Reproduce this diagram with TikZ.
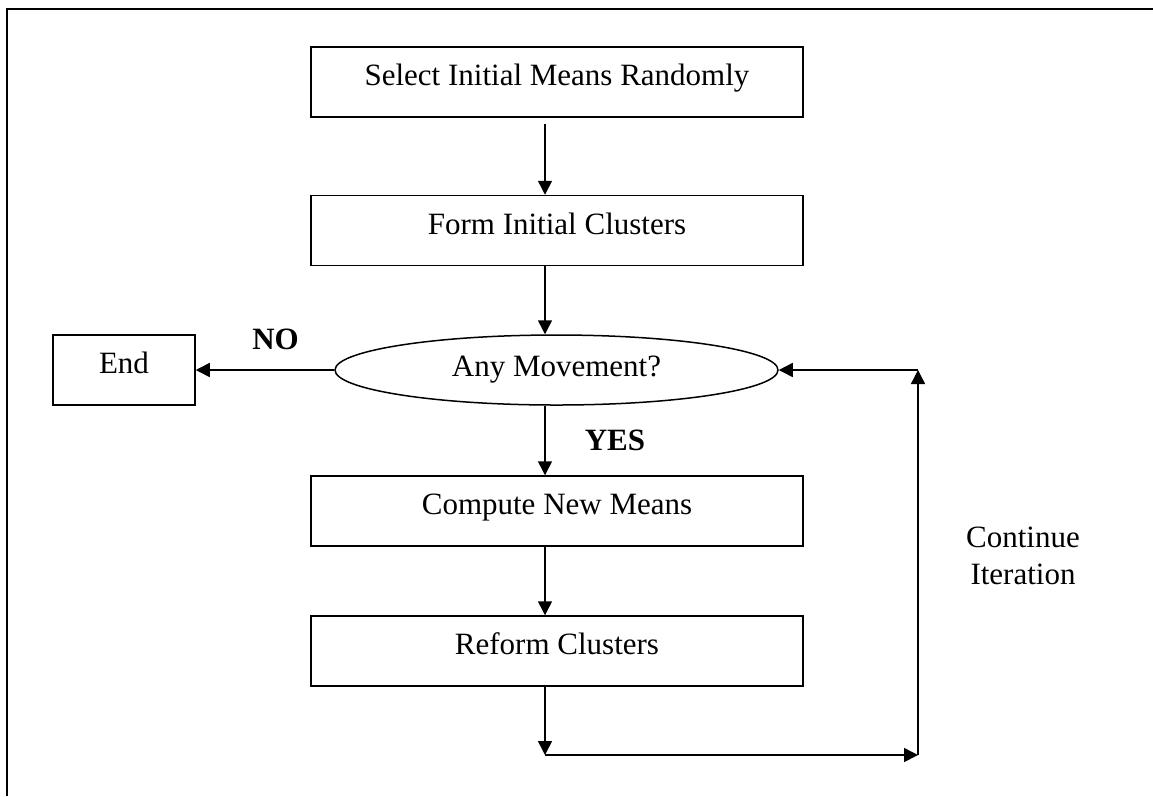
\documentclass[tikz,border=0pt]{standalone}
\usepackage{fontspec}
\setmainfont{Liberation Serif}
\usetikzlibrary{arrows.meta,shapes.geometric}
\tikzset{
  procbox/.style={draw,line width=0.6pt,rectangle,minimum width=196.8pt,minimum height=28pt,inner sep=0pt,text height=8.4pt,text depth=5.6pt},
  decide/.style={draw,line width=0.6pt,ellipse,minimum width=177.2pt,minimum height=28pt,inner sep=0pt},
  flow/.style={line width=0.6pt,-{Triangle[length=5.6pt,width=5.6pt]}},
  tag/.style={font=\fontsize{12.4}{15}\selectfont\bfseries}
}

\begin{document}
\begin{tikzpicture}[x=0.4pt,y=-0.4pt,font=\fontsize{12.4}{15}\selectfont]
  \useasboundingbox (0,0) rectangle (1153,796);
  % Frame
  \draw[line width=0.8pt] (7,796) -- (7,9) -- (1153,9);

  % Steps
  \node[procbox] (sel) at (557,82) {Select Initial Means Randomly};
  \node[procbox] (form) at (557,230.5) {Form Initial Clusters};
  \node[decide] (move) at (556.5,370) {Any Movement?};
  \node[procbox,minimum width=56.8pt] (fin) at (124,370) {End};
  \node[procbox] (comp) at (557,511) {Compute New Means};
  \node[procbox] (reform) at (557,651) {Reform Clusters};

  % Labels
  \node[tag] (no) at (275.5,339.5) {NO};
  \node[tag] (yes) at (615,440.5) {YES};
  \node[align=center] (cont) at (1023,556) {Continue\\Iteration};

  % Main flow
  \coordinate (spine) at (545,0);
  \draw[flow,shorten <=2.4pt] (sel.south -| spine) -- (form.north -| spine);
  \draw[flow] (form.south -| spine) -- (move.north -| spine);
  \draw[flow] (move.west) -- (fin.east);
  \draw[flow] (move.south -| spine) -- (comp.north -| spine);
  \draw[flow] (comp.south -| spine) -- (reform.north -| spine);

  % Loop back
  \coordinate (lb) at (545,755);
  \coordinate (rb) at (918,755);
  \coordinate (rt) at (918,370);
  \draw[flow] (reform.south -| spine) -- (lb);
  \draw[flow] (lb) -- (rb);
  \draw[flow] (rb) -- (rt);
  \draw[flow] (rt) -- (move.east);
\end{tikzpicture}
\end{document}
